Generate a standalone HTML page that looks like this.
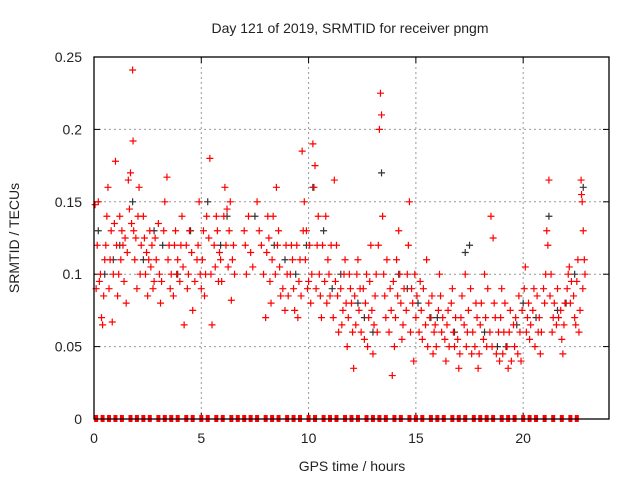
<!DOCTYPE html>
<html><head><meta charset="utf-8"><style>
body{margin:0;background:#fff;font-family:"Liberation Sans",sans-serif}
svg text{font-family:"Liberation Sans",sans-serif;font-size:14px;fill:#222}
</style></head><body>
<svg id="chart" width="640" height="480">
<text x="350" y="33" text-anchor="middle">Day 121 of 2019, SRMTID for receiver pngm</text>
<text x="352" y="471" text-anchor="middle">GPS time / hours</text>
<text transform="translate(19,238) rotate(-90)" text-anchor="middle">SRMTID / TECUs</text>
<g id="grid"></g><g id="ticks"></g><g id="marks"></g>
<rect x="94" y="57" width="515" height="362" fill="none" stroke="#000" stroke-width="1.3"/>
</svg>
<script>
const xTicks=[0,5,10,15,20];
const yTicks=[0,0.05,0.1,0.15,0.2,0.25];
const yTickLabels=["0","0.05","0.1","0.15","0.2","0.25"];
const redPts=[[0.1,0.09],[0.15,0.12],[0.2,0.15],[0.3,0.1],[0.35,0.07],[0.4,0.065],[0.5,0.11],[0.6,0.14],[0.65,0.16],[0.7,0.09],[0.8,0.13],[0.85,0.067],[0.9,0.1],[1.0,0.178],[1.05,0.12],[1.1,0.085],[1.2,0.14],[1.25,0.11],[1.3,0.13],[1.4,0.095],[1.45,0.125],[1.5,0.08],[1.6,0.165],[1.7,0.17],[1.75,0.135],[1.8,0.241],[1.82,0.192],[1.85,0.13],[1.9,0.11],[2.0,0.09],[2.1,0.16],[2.2,0.12],[2.3,0.14],[2.4,0.1],[2.5,0.085],[2.6,0.13],[2.7,0.12],[2.8,0.095],[2.9,0.11],[3.0,0.135],[3.1,0.08],[3.3,0.15],[3.4,0.167],[3.5,0.12],[3.6,0.1],[3.7,0.085],[3.8,0.13],[3.9,0.11],[4.0,0.095],[4.1,0.14],[4.2,0.065],[4.3,0.12],[4.4,0.1],[4.6,0.075],[4.8,0.11],[4.9,0.15],[5.0,0.09],[5.1,0.13],[5.2,0.1],[5.4,0.18],[5.5,0.065],[5.6,0.12],[5.7,0.14],[5.8,0.095],[5.9,0.11],[6.1,0.16],[6.2,0.145],[6.3,0.13],[6.4,0.082],[6.5,0.12],[7.0,0.13],[7.1,0.1],[7.3,0.115],[7.6,0.15],[7.8,0.12],[8.0,0.07],[8.1,0.14],[8.2,0.095],[8.3,0.11],[8.5,0.16],[8.6,0.13],[8.7,0.085],[8.9,0.075],[9.0,0.1],[9.2,0.12],[9.3,0.09],[9.5,0.07],[9.6,0.11],[9.7,0.185],[9.8,0.15],[9.9,0.13],[10.0,0.095],[10.1,0.08],[10.2,0.19],[10.3,0.175],[10.4,0.12],[10.5,0.1],[10.6,0.07],[10.8,0.14],[10.9,0.11],[11.0,0.085],[11.2,0.165],[11.3,0.12],[11.4,0.06],[11.5,0.09],[11.6,0.075],[11.7,0.11],[11.8,0.05],[11.9,0.1],[12.0,0.08],[12.1,0.035],[12.2,0.065],[12.3,0.11],[12.4,0.09],[12.6,0.055],[12.7,0.1],[12.8,0.07],[12.9,0.12],[13.0,0.045],[13.1,0.085],[13.2,0.06],[13.3,0.2],[13.35,0.225],[13.4,0.21],[13.45,0.14],[13.5,0.1],[13.6,0.07],[13.8,0.09],[13.9,0.03],[14.0,0.05],[14.1,0.11],[14.2,0.13],[14.3,0.08],[14.4,0.065],[14.6,0.1],[14.7,0.15],[14.8,0.09],[14.9,0.04],[15.0,0.07],[15.2,0.095],[15.3,0.055],[15.5,0.11],[15.6,0.08],[15.8,0.045],[15.9,0.065],[16.1,0.1],[16.2,0.06],[16.4,0.04],[16.5,0.075],[16.7,0.09],[16.8,0.05],[17.0,0.035],[17.1,0.07],[17.3,0.1],[17.4,0.06],[17.6,0.045],[17.8,0.08],[17.9,0.035],[18.0,0.065],[18.2,0.1],[18.3,0.05],[18.5,0.14],[18.6,0.125],[18.7,0.07],[18.9,0.04],[19.0,0.09],[19.1,0.06],[19.3,0.035],[19.4,0.075],[19.6,0.05],[19.8,0.085],[19.9,0.04],[20.1,0.105],[20.2,0.07],[20.3,0.055],[20.5,0.09],[20.7,0.06],[20.8,0.045],[21.0,0.08],[21.1,0.13],[21.2,0.165],[21.3,0.1],[21.4,0.07],[21.6,0.09],[21.8,0.055],[21.9,0.065],[22.1,0.1],[22.2,0.08],[22.4,0.07],[22.5,0.095],[22.6,0.06],[22.7,0.165],[22.75,0.15],[22.8,0.13],[22.85,0.11]];
const redPts2=[[0.05,0.148],[0.25,0.095],[0.45,0.085],[0.55,0.12],[0.75,0.11],[0.95,0.135],[1.15,0.1],[1.35,0.12],[1.55,0.115],[1.65,0.145],[1.95,0.125],[2.05,0.14],[2.15,0.1],[2.35,0.125],[2.45,0.115],[2.55,0.11],[2.65,0.105],[2.75,0.09],[2.85,0.125],[3.05,0.1],[3.15,0.095],[3.25,0.13],[3.45,0.11],[3.55,0.09],[3.75,0.12],[3.85,0.1],[4.05,0.12],[4.15,0.105],[4.35,0.09],[4.45,0.13],[4.55,0.115],[4.7,0.095],[4.85,0.12],[4.95,0.1],[5.05,0.11],[5.15,0.085],[5.25,0.14],[5.35,0.125],[5.45,0.1],[5.65,0.105],[5.75,0.13],[5.85,0.115],[5.95,0.095],[6.05,0.14],[6.15,0.12],[6.25,0.105],[6.35,0.15],[6.45,0.11],[6.55,0.1],[7.05,0.12],[7.2,0.14],[7.4,0.105],[7.7,0.13],[7.9,0.1],[8.05,0.115],[8.15,0.125],[8.25,0.08],[8.35,0.14],[8.45,0.1],[8.55,0.12],[8.65,0.105],[8.8,0.09],[8.95,0.12],[9.05,0.085],[9.15,0.1],[9.25,0.11],[9.35,0.075],[9.45,0.12],[9.55,0.095],[9.65,0.085],[9.75,0.13],[9.85,0.11],[9.95,0.09],[10.05,0.12],[10.15,0.1],[10.25,0.16],[10.35,0.09],[10.45,0.14],[10.55,0.085],[10.65,0.12],[10.75,0.095],[10.85,0.08],[10.95,0.1],[11.05,0.12],[11.15,0.07],[11.25,0.095],[11.35,0.085],[11.55,0.065],[11.65,0.1],[11.75,0.08],[11.85,0.07],[11.95,0.09],[12.05,0.06],[12.15,0.085],[12.25,0.1],[12.35,0.075],[12.45,0.06],[12.55,0.09],[12.65,0.08],[12.75,0.05],[12.85,0.095],[12.95,0.075],[13.05,0.065],[13.15,0.1],[13.25,0.12],[13.55,0.085],[13.65,0.11],[13.75,0.06],[13.85,0.075],[13.95,0.095],[14.05,0.07],[14.15,0.085],[14.25,0.1],[14.35,0.055],[14.45,0.09],[14.55,0.075],[14.65,0.12],[14.75,0.06],[14.85,0.08],[14.95,0.1],[15.05,0.085],[15.15,0.06],[15.25,0.075],[15.35,0.09],[15.45,0.065],[15.55,0.05],[15.65,0.07],[15.75,0.085],[15.85,0.06],[15.95,0.05],[16.05,0.075],[16.15,0.085],[16.25,0.07],[16.35,0.055],[16.45,0.065],[16.55,0.05],[16.65,0.08],[16.75,0.06],[16.85,0.07],[16.95,0.055],[17.05,0.045],[17.15,0.085],[17.25,0.065],[17.35,0.05],[17.45,0.075],[17.55,0.09],[17.65,0.06],[17.75,0.05],[17.85,0.07],[17.95,0.045],[18.05,0.08],[18.15,0.055],[18.25,0.07],[18.35,0.09],[18.45,0.06],[18.55,0.05],[18.65,0.08],[18.75,0.045],[18.85,0.06],[18.95,0.07],[19.05,0.045],[19.15,0.08],[19.25,0.05],[19.35,0.06],[19.45,0.04],[19.55,0.065],[19.65,0.07],[19.75,0.045],[19.85,0.06],[19.95,0.075],[20.05,0.09],[20.15,0.06],[20.25,0.08],[20.35,0.065],[20.45,0.075],[20.55,0.05],[20.65,0.085],[20.75,0.07],[20.85,0.06],[20.95,0.09],[21.05,0.1],[21.15,0.12],[21.25,0.085],[21.35,0.06],[21.45,0.08],[21.55,0.065],[21.65,0.07],[21.75,0.075],[21.85,0.045],[21.95,0.08],[22.05,0.09],[22.15,0.105],[22.25,0.095],[22.35,0.085],[22.45,0.065],[22.55,0.11],[22.65,0.075],[22.72,0.155],[22.78,0.09],[22.88,0.1]];
const blackPts=[[0.2,0.13],[0.5,0.1],[1.2,0.12],[1.8,0.15],[2.3,0.11],[3.2,0.12],[4.5,0.13],[5.3,0.15],[6.2,0.14],[7.5,0.14],[8.4,0.12],[9.4,0.1],[10.2,0.16],[10.7,0.13],[11.5,0.1],[12.3,0.08],[13.0,0.06],[13.4,0.17],[14.2,0.1],[15.1,0.08],[16.0,0.07],[16.8,0.06],[17.5,0.12],[18.2,0.06],[19.2,0.05],[20.0,0.08],[20.6,0.07],[21.2,0.14],[22.0,0.08],[22.8,0.16],[0.9,0.11],[2.8,0.13],[3.9,0.1],[5.9,0.12],[8.9,0.11],[9.9,0.12],[11.1,0.09],[12.6,0.07],[14.6,0.09],[15.7,0.07],[17.3,0.115],[18.8,0.05],[19.7,0.065],[21.6,0.075],[22.4,0.1]];
const zeroT=[0.1,0.4,0.7,1.0,1.3,1.7,2.0,2.3,2.6,3.0,3.3,3.6,3.9,4.3,4.6,5.0,5.3,5.7,6.0,6.4,6.7,7.0,7.3,7.6,8.0,8.3,8.6,9.0,9.3,9.6,10.0,10.3,10.7,11.0,11.3,11.7,12.0,12.3,12.7,13.0,13.3,13.6,14.0,14.3,14.7,15.0,15.3,15.7,16.0,16.3,16.7,17.0,17.3,17.7,18.0,18.3,18.6,19.0,19.3,19.6,20.0,20.3,20.6,21.0,21.4,21.8,22.2,22.5];
const X=t=>94+t*515/24, Y=v=>419-v*362/0.25;
const NS="http://www.w3.org/2000/svg";
function mk(tag,attrs,parent){const e=document.createElementNS(NS,tag);for(const k in attrs)e.setAttribute(k,attrs[k]);document.getElementById(parent).appendChild(e);return e;}
xTicks.forEach(t=>{
  if(t>0){const g=mk('line',{x1:X(t),x2:X(t),y1:57,y2:419,stroke:'#999','stroke-dasharray':'2,3'},'grid');
  
  }
  const l=mk('text',{x:X(t),y:443,'text-anchor':'middle'},'ticks');l.textContent=t;
  
  
  mk('line',{x1:X(t),x2:X(t),y1:419,y2:413,stroke:'#000'},'ticks');
  mk('line',{x1:X(t),x2:X(t),y1:57,y2:63,stroke:'#000'},'ticks');
});
yTicks.forEach((v,i)=>{
  if(v>0&&v<0.25){const g=mk('line',{x1:94,x2:609,y1:Y(v),y2:Y(v),stroke:'#999','stroke-dasharray':'2,3'},'grid');
  
  }
  const l=mk('text',{x:82,y:Y(v)+5,'text-anchor':'end'},'ticks');l.textContent=yTickLabels[i];
  
  
  mk('line',{x1:94,x2:100,y1:Y(v),y2:Y(v),stroke:'#000'},'ticks');
  mk('line',{x1:603,x2:609,y1:Y(v),y2:Y(v),stroke:'#000'},'ticks');
});
function plus(t,v,c,name){
  const x=X(t),y=Y(v);
  const p=mk('path',{d:`M${x-3.5},${y}H${x+3.5}M${x},${y-3.5}V${y+3.5}`,stroke:c,'stroke-width':1.2,fill:'none'},'marks');
  
  
}
blackPts.forEach(p=>plus(p[0],p[1],'#333','black-point'));
redPts.forEach(p=>plus(p[0],p[1],'#f00','red-point'));
redPts2.forEach(p=>plus(p[0],p[1],'#f00','red-point'));
zeroT.forEach(t=>{
  const r=mk('rect',{x:X(t)-2,y:415,width:4,height:7,fill:'#f00'},'marks');
  
  
});
</script>
</body></html>
